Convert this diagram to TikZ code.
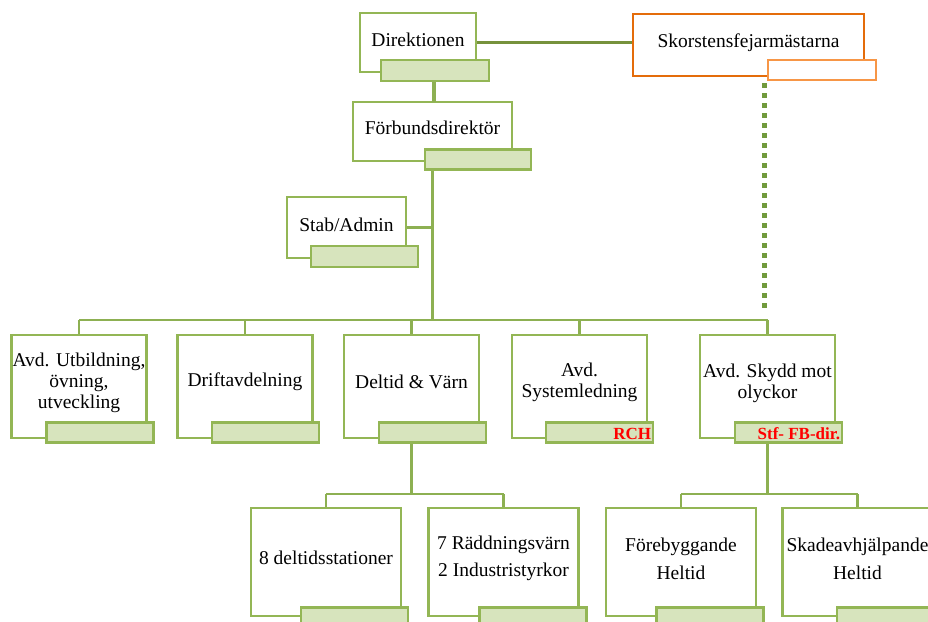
\documentclass[tikz,border=0pt]{standalone}
\usepackage{fontspec}
\setmainfont{Liberation Serif}
\definecolor{gbox}{HTML}{93B655}
\definecolor{glab}{HTML}{D7E4BD}
\definecolor{gline}{HTML}{8DB052}
\definecolor{gdark}{HTML}{76923C}
\definecolor{gdot}{HTML}{719A3C}
\definecolor{obox}{HTML}{E46C0A}
\definecolor{olab}{HTML}{F79646}
\begin{document}
\begin{tikzpicture}[x=1pt,y=-1pt,
  box/.style={draw=gbox,line width=2.7pt,fill=white,inner sep=0pt},
  txt/.style={inner sep=0pt,align=center,font=\fontsize{19.5}{21}\selectfont},
  txtwide/.style={inner sep=0pt,align=center,font=\fontsize{19.5}{27.5}\selectfont},
  lab/.style={draw=gbox,line width=2.7pt,fill=glab,minimum width=107pt,minimum height=20pt,inner sep=0pt},
  conn/.style={draw=gline,line width=2.6pt},
  redtxt/.style={text=red,inner sep=0pt,font=\fontsize{17}{18}\selectfont\bfseries}]
\useasboundingbox (0,0) rectangle (928,621);
\clip (0,0) rectangle (928,621);
\coordinate (busL) at (79,320);
\coordinate (busR) at (767.5,320);
\coordinate (trunkB) at (432.5,320);
\coordinate (bus2) at (411.5,494);
\coordinate (bus3) at (767.5,494);
\coordinate (dotA) at (764.5,83);
\coordinate (dotB) at (764.5,311);
% top boxes
\node[box,minimum width=116pt,minimum height=59pt] (dir) at (418,42.5) {};
\node[box,draw=obox,minimum width=231pt,minimum height=62pt] (sk) at (748.5,45) {};
\node[box,minimum width=159pt,minimum height=59pt] (fd) at (432.5,131.5) {};
\node[box,minimum width=119pt,minimum height=61pt] (stab) at (346.5,227.5) {};
\draw[draw=gdark,line width=3.2pt] (dir.east) -- (dir.east -| sk.west);
\draw[conn,line width=3.2pt] (dir.south -| 434,0) -- (434,102);
\draw[conn,line width=3.2pt] (fd.south) -- (trunkB);
\draw[conn,line width=2.8pt] (stab.east) -- (stab.east -| fd.south);
\draw[gdot,line width=5pt,dash pattern=on 5pt off 5pt] (dotA) -- (dotB);
\draw[conn] (busL) -- (busR);
% row 2
\node[box,minimum width=135pt,minimum height=103pt] (b1) at (79,386.5) {};
\node[box,minimum width=135pt,minimum height=103pt] (b2) at (245,386.5) {};
\node[box,minimum width=135pt,minimum height=103pt] (b3) at (411.5,386.5) {};
\node[box,minimum width=135pt,minimum height=103pt] (b4) at (579.5,386.5) {};
\node[box,minimum width=135pt,minimum height=103pt] (b5) at (767.5,386.5) {};
\foreach \b in {b1,b2,b3,b4,b5} \draw[conn] (\b.north) -- (\b.north |- busL);
\draw[conn] (b3.south) -- (bus2);
\draw[conn] (b5.south) -- (bus3);
% row 3
\node[box,minimum width=150pt,minimum height=108pt] (c1) at (326,562) {};
\node[box,minimum width=150pt,minimum height=108pt] (c2) at (503.5,562) {};
\node[box,minimum width=150pt,minimum height=108pt] (c3) at (681,562) {};
\node[box,minimum width=150pt,minimum height=108pt] (c4) at (857.5,562) {};
\draw[conn] (c1.north |- bus2) -- (c2.north |- bus2);
\draw[conn] (c1.north |- bus2) -- (c1.north);
\draw[conn] (c2.north |- bus2) -- (c2.north);
\draw[conn] (c3.north |- bus3) -- (c4.north |- bus3);
\draw[conn] (c3.north |- bus3) -- (c3.north);
\draw[conn] (c4.north |- bus3) -- (c4.north);
% label boxes
\node[lab,minimum width=108pt,minimum height=21pt] (dirl) at (435,70.5) {};
\node[lab,draw=olab,fill=white,minimum width=108pt,minimum height=20pt] (skl) at (822,70) {};
\node[lab,minimum width=106pt,minimum height=20pt] (fdl) at (478,159.5) {};
\node[lab,minimum height=21pt] (stabl) at (364.5,256.5) {};
\node[lab] (b1l) at (100,432.5) {};
\node[lab] (b2l) at (265.5,432.5) {};
\node[lab] (b3l) at (432.5,432.5) {};
\node[lab] (b4l) at (599.5,432.5) {};
\node[lab] (b5l) at (788.5,432.5) {};
\node[lab] (c1l) at (354.5,617.5) {};
\node[lab] (c2l) at (533,617.5) {};
\node[lab] (c3l) at (710,617.5) {};
\node[lab] (c4l) at (890.5,617.5) {};
% texts
\node[txt] (dirt) at (418,40) {Direktionen};
\node[txt] (skt) at (748.5,43) {Skorstensfejarmästarna};
\node[txt] (fdt) at (432.5,128) {Förbundsdirektör};
\node[txt] (stabt) at (346.5,225) {Stab/Admin};
\node[txt] (b1t) at (79,383) {Avd. Utbildning,\\övning,\\utveckling};
\node[txt] (b2t) at (245,382) {Driftavdelning};
\node[txt] (b3t) at (411.5,382) {Deltid \& Värn};
\node[txt] (b4t) at (579.5,382.5) {Avd.\\Systemledning};
\node[txt] (b5t) at (767.5,383.5) {Avd. Skydd mot\\olyckor};
\node[txt] (c1t) at (326,558) {8 deltidsstationer};
\node[txtwide] (c2t) at (503.5,558.5) {7 Räddningsvärn\\2 Industristyrkor};
\node[txtwide] (c3t) at (681,559) {Förebyggande\\Heltid};
\node[txtwide] (c4t) at (857.5,559) {Skadeavhjälpande\\Heltid};
\node[redtxt,anchor=east] (rch) at ([xshift=-3pt,yshift=-1pt]b4l.east) {RCH};
\node[redtxt,anchor=east] (stf) at ([xshift=-3pt,yshift=-1pt]b5l.east) {Stf- FB-dir.};
\end{tikzpicture}
\end{document}
